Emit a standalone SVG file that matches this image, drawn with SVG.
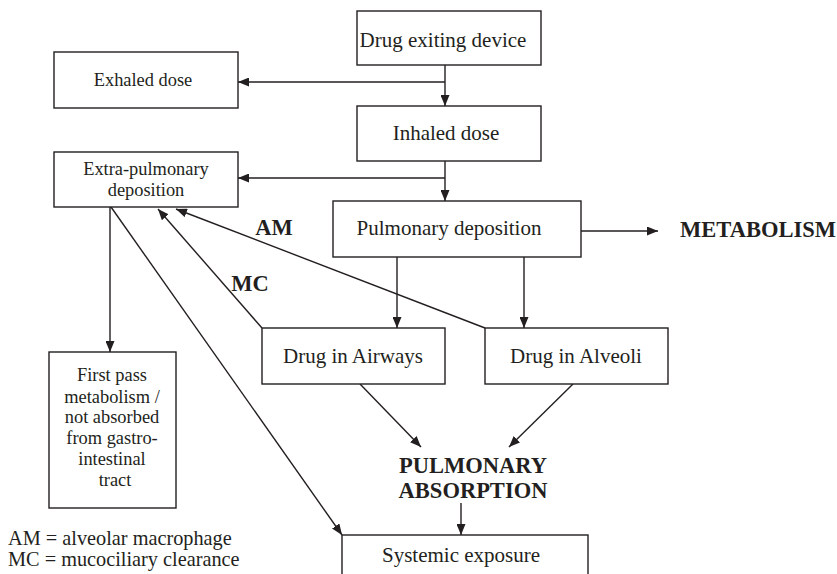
<svg xmlns="http://www.w3.org/2000/svg" width="837" height="574" viewBox="0 0 837 574">
<style>
.box{fill:#fff;stroke:#231f20;stroke-width:1.4}
.t{font-family:"Liberation Serif","Times New Roman",serif;fill:#231f20;text-anchor:middle}
.r{font-size:21px}
.s{font-size:18.4px}
.b{font-size:22.5px;font-weight:bold}
.c{fill:none;stroke:#231f20;stroke-width:1.4;marker-end:url(#ah)}
</style>
<defs>
<marker id="ah" markerUnits="userSpaceOnUse" markerWidth="11" markerHeight="9" refX="11" refY="4.5" orient="auto">
<path d="M0,0 L11,4.5 L0,9 z" fill="#231f20"/>
</marker>
</defs>
<rect width="837" height="574" fill="#fff"/>
<g id="connectors">
<path class="c" d="M445,65 V106"/>
<path class="c" d="M445,82 H238"/>
<path class="c" d="M445,161 V201"/>
<path class="c" d="M445,178 H238"/>
<path class="c" d="M581,231 H658"/>
<path class="c" d="M397,257 V328"/>
<path class="c" d="M524,257 V328"/>
<path class="c" d="M262,328 L158,209"/>
<path class="c" d="M485,328 L176,209"/>
<path class="c" d="M110,207 V352"/>
<path class="c" d="M111,207 L342,535"/>
<path class="c" d="M360,384 L421,447"/>
<path class="c" d="M573,384 L509,447"/>
<path class="c" d="M461,503 V535"/>
</g>
<g id="drug-exiting">
<rect class="box" x="357" y="11" width="184" height="54"/>
<text class="t r" x="443" y="47">Drug exiting device</text>
</g>
<g id="exhaled">
<rect class="box" x="54" y="52" width="184" height="56"/>
<text class="t s" x="143" y="86">Exhaled dose</text>
</g>
<g id="inhaled">
<rect class="box" x="357" y="106" width="184" height="55"/>
<text class="t r" x="446" y="140">Inhaled dose</text>
</g>
<g id="extra-pulmonary">
<rect class="box" x="54" y="152" width="184" height="55"/>
<text class="t s" x="146" y="175">Extra-pulmonary</text>
<text class="t s" x="146" y="196">deposition</text>
</g>
<g id="pulmonary-deposition">
<rect class="box" x="333" y="201" width="248" height="56"/>
<text class="t r" x="449" y="235">Pulmonary deposition</text>
</g>
<g id="metabolism">
<text class="t b" x="758" y="237">METABOLISM</text>
</g>
<g id="labels">
<text class="t b" x="274" y="235">AM</text>
<text class="t b" x="250" y="291">MC</text>
</g>
<g id="airways">
<rect class="box" x="262" y="328" width="183" height="56"/>
<text class="t r" x="353" y="363">Drug in Airways</text>
</g>
<g id="alveoli">
<rect class="box" x="485" y="328" width="183" height="56"/>
<text class="t r" x="576" y="363">Drug in Alveoli</text>
</g>
<g id="first-pass">
<rect class="box" x="49" y="352" width="127" height="156"/>
<text class="t s" x="112" y="381">First pass</text>
<text class="t s" x="112" y="403">metabolism /</text>
<text class="t s" x="112" y="423">not absorbed</text>
<text class="t s" x="112" y="444">from gastro-</text>
<text class="t s" x="112" y="465">intestinal</text>
<text class="t s" x="115" y="486">tract</text>
</g>
<g id="pulmonary-absorption">
<text class="t b" x="473" y="473">PULMONARY</text>
<text class="t b" x="473" y="498">ABSORPTION</text>
</g>
<g id="systemic">
<rect class="box" x="342" y="535" width="246" height="50"/>
<text class="t r" x="461" y="562">Systemic exposure</text>
</g>
<g id="legend">
<text class="t" style="font-size:20.3px;text-anchor:start" x="8" y="545">AM = alveolar macrophage</text>
<text class="t" style="font-size:20.3px;text-anchor:start" x="8" y="566">MC = mucociliary clearance</text>
</g>
</svg>
